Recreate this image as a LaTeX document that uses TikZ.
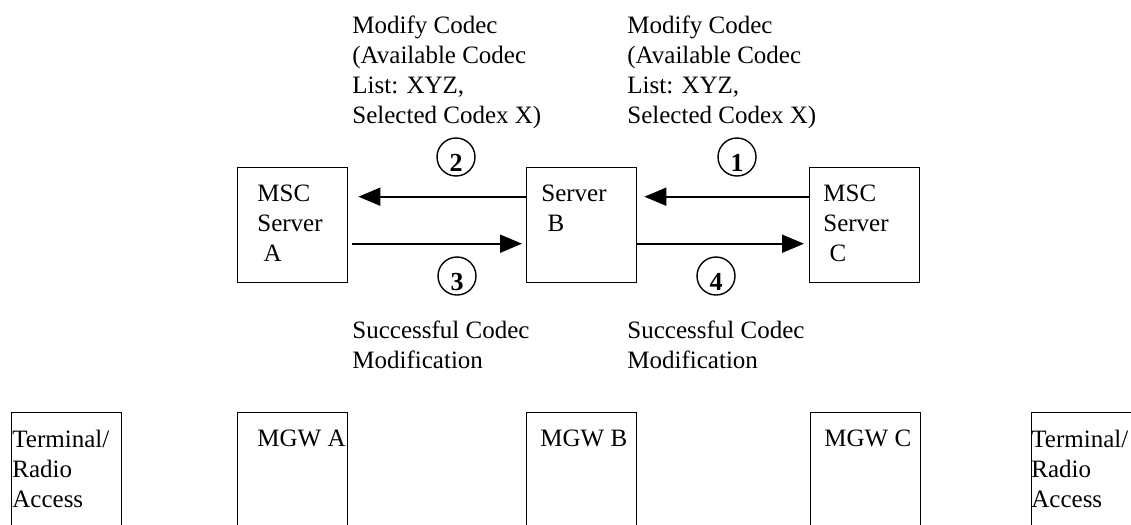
\documentclass[tikz,border=0pt]{standalone}
\usepackage{fontspec}
\setmainfont{Liberation Serif}
\usetikzlibrary{arrows.meta,positioning}

\tikzset{
  box/.style={draw,line width=0.7pt,minimum width=55pt,minimum height=57.5pt,anchor=north west,inner sep=0pt},
  gw/.style={box,minimum height=65pt},
  txt/.style={inner sep=0pt,align=left,anchor=north west},
  num/.style={draw,circle,line width=0.7pt,minimum size=19pt,inner sep=0pt,font=\fontsize{13pt}{15pt}\selectfont\bfseries,text height=14.5pt,text depth=0pt},
  msg/.style={line width=1pt,-{Triangle[length=11pt,width=9pt]}}
}

\begin{document}
\begin{tikzpicture}[x=0.5pt,y=-0.5pt,font=\fontsize{12.5pt}{15pt}\selectfont]
\useasboundingbox (0,0) rectangle (1131,525);
\clip (0,0) rectangle (1131,525);

\node[box] (A) at (237,167) {};
\node[box] (B) at (526,167) {};
\node[box] (C) at (809,167) {};
\node[txt,below right=9pt and 10pt of A.north west] (tA) {MSC\\Server\\~A};
\node[txt,below right=9pt and 7.5pt of B.north west] (tB) {Server\\~B};
\node[txt,below right=9pt and 7pt of C.north west] (tC) {MSC\\Server\\~C};

\node[txt] (mod2) at (352,15) {Modify Codec\\(Available Codec\\List: XYZ,\\Selected Codex X)};
\node[txt] (mod1) at (627,15) {Modify Codec\\(Available Codec\\List: XYZ,\\Selected Codex X)};
\node[txt] (ok3) at (352,320) {Successful Codec\\Modification};
\node[txt] (ok4) at (627,320) {Successful Codec\\Modification};

\draw[msg] ([yshift=14.25pt]B.west) -- ([yshift=14.25pt,xshift=5pt]A.east);
\draw[msg] ([yshift=14.25pt]C.west) -- ([yshift=14.25pt,xshift=3.5pt]B.east);
\draw[msg] ([yshift=-9.25pt,xshift=2pt]A.east) -- ([yshift=-9.25pt,xshift=-2pt]B.west);
\draw[msg] ([yshift=-9.25pt]B.east) -- ([yshift=-9.25pt,xshift=-2.5pt]C.west);

\foreach \n/\x/\y in {1/737/157,2/456/157,3/457/276,4/716/276}
\node[num] (c\n) at (\x,\y) {\n};

\foreach \n/\x in {tl/11,gA/237,gB/526,gC/810,tr/1031}
\node[gw] (\n) at (\x,412) {};
\node[txt,below right=9pt and 0.5pt of tl.north west] (ttl) {Terminal/\\Radio\\Access};
\node[txt,below right=9pt and 10pt of gA.north west] (tgA) {MGW A};
\node[txt,below right=9pt and 7pt of gB.north west] (tgB) {MGW B};
\node[txt,below right=9pt and 7pt of gC.north west] (tgC) {MGW C};
\node[txt,below right=9pt and 0pt of tr.north west] (ttr) {Terminal/\\Radio\\Access};
\end{tikzpicture}
\end{document}
